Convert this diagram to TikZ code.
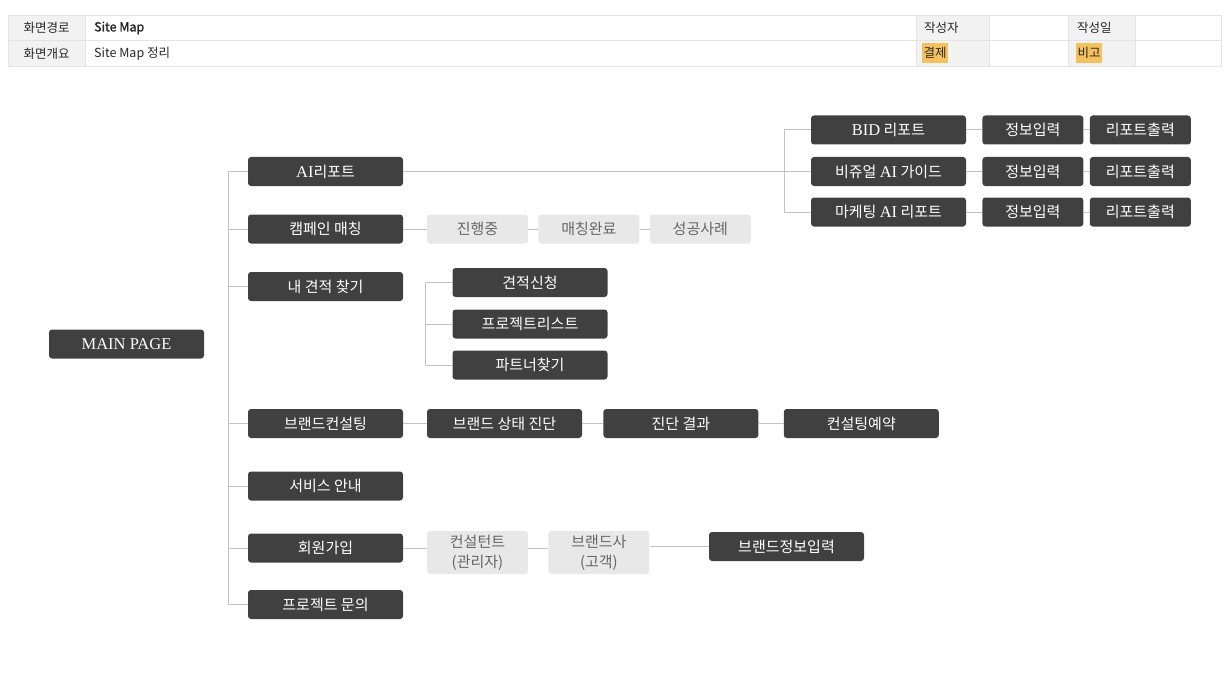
\documentclass[tikz,border=0pt]{standalone}
\usepackage{fontspec}
\setmainfont{Noto Sans CJK KR}
\newfontfamily\latn[Scale=1.1]{Liberation Serif}
\usetikzlibrary{positioning}

\definecolor{boxdark}{HTML}{404040}
\definecolor{boxlight}{HTML}{E8E8E8}
\definecolor{linegray}{HTML}{C4C4C4}
\definecolor{cellgray}{HTML}{F2F2F2}
\definecolor{cellline}{HTML}{E4E4E4}
\definecolor{hilite}{HTML}{F5C15C}

\begin{document}
\begin{tikzpicture}[x=1pt, y=-1pt, font=\fontsize{15}{20}\selectfont,
    dark/.style={rectangle, fill=boxdark, text=white, rounded corners=3pt,
      minimum width=155pt, minimum height=29pt, inner sep=0pt},
    small/.style={minimum width=101pt},
    light/.style={rectangle, fill=boxlight, text=black!60, rounded corners=3pt,
      minimum width=101pt, minimum height=29pt, inner sep=0pt, align=center},
    link/.style={draw=linegray, line width=1pt},
    cell/.style={font=\fontsize{12.5}{14}\selectfont, text=black!85, inner sep=0pt}]
    \useasboundingbox (0,0) rectangle (1229,674);

    % header table
    \fill[cellgray] (8,15) rectangle (85,66);
    \fill[cellgray] (916,15) rectangle (989,66);
    \fill[cellgray] (1068,15) rectangle (1135,66);
    \draw[cellline] (8,15) rectangle (1221,66);
    \draw[cellline] (8,40.5) -- (1221,40.5);
    \foreach \x in {85,916,989,1068,1135}
        \draw[cellline] (\x,15) -- (\x,66);
    \node (h1) [cell] at (46.5,28) {화면경로};
    \node (h2) [cell] at (46.5,54) {화면개요};
    \node (h3) [cell, anchor=west] at (94,28) {\addfontfeature{FakeBold=1.5}Site Map};
    \node (h4) [cell, anchor=west] at (94,54) {Site Map 정리};
    \node (h5) [cell, anchor=west] at (924,28) {작성자};
    \node (h6) [cell, anchor=west] at (1077,28) {작성일};
    \node (h7) [cell, anchor=west, fill=hilite, inner xsep=1.5pt, inner ysep=4pt] at (922,53) {결제};
    \node (h8) [cell, anchor=west, fill=hilite, inner xsep=1.5pt, inner ysep=4pt] at (1076,53) {비고};

    % main and first level
    \node (main) [dark] at (126.5,344) {\latn MAIN PAGE};
    \node (ai) [dark] at (325.5,171.5) {{\latn AI}리포트};
    \node (camp) [dark] at (325.5,229) {캠페인 매칭};
    \node (quote) [dark] at (325.5,286.5) {내 견적 찾기};
    \node (brand) [dark] at (325.5,423.5) {브랜드컨설팅};
    \node (service) [dark] at (325.5,486) {서비스 안내};
    \node (member) [dark] at (325.5,548) {회원가입};
    \node (inquiry) [dark] at (325.5,604.5) {프로젝트 문의};

    \coordinate (trunktop) at (228,171.5);
    \coordinate (trunkbot) at (228,604.5);
    \draw[link] (trunktop) -- (trunkbot);
    \foreach \n in {ai,camp,quote,brand,service,member,inquiry}
        \draw[link] (\n.west) -- (\n.west -| trunktop);

    % AI report
    \node (bid) [dark] at (888.5,130) {{\latn BID} 리포트};
    \node (guide) [dark] at (888.5,171.5) {비쥬얼 {\latn AI} 가이드};
    \node (mkt) [dark] at (888.5,212) {마케팅 {\latn AI} 리포트};
    \node (info1) [dark, small, right=16pt of bid] {정보입력};
    \node (out1) [dark, small, right=6pt of info1] {리포트출력};
    \node (info2) [dark, small, right=16pt of guide] {정보입력};
    \node (out2) [dark, small, right=6pt of info2] {리포트출력};
    \node (info3) [dark, small, right=16pt of mkt] {정보입력};
    \node (out3) [dark, small, right=6pt of info3] {리포트출력};

    \draw[link] (ai) -- (guide);
    \draw[link] (bid.west) -- ++(-26,0) |- (mkt.west);
    \foreach \i in {1,2,3}
        \draw[link] (info\i) -- (out\i);
    \draw[link] (bid) -- (info1);
    \draw[link] (guide) -- (info2);
    \draw[link] (mkt) -- (info3);

    % campaign
    \node (ongoing) [light] at (477.5,229) {진행중};
    \node (matched) [light, right=10pt of ongoing] {매칭완료};
    \node (success) [light, right=10pt of matched] {성공사례};
    \draw[link] (camp) -- (ongoing);
    \draw[link] (ongoing) -- (matched);
    \draw[link] (matched) -- (success);

    % my quote
    \node (request) [dark] at (530,282.5) {견적신청};
    \node (plist) [dark] at (530,324) {프로젝트리스트};
    \node (partner) [dark] at (530,365) {파트너찾기};
    \draw[link] (request.west) -- ++(-27,0) |- (partner.west);
    \draw[link] (plist.west) -- ++(-27,0);

    % brand consulting
    \node (diag) [dark] at (504.5,423.5) {브랜드 상태 진단};
    \node (result) [dark, right=21pt of diag] {진단 결과};
    \node (booking) [dark, right=25pt of result] {컨설팅예약};
    \draw[link] (brand) -- (diag);
    \draw[link] (diag) -- (result);
    \draw[link] (result) -- (booking);

    % sign up
    \node (consultant) [light, minimum height=43pt] at (477.5,552.5) {컨설턴트\\(관리자)};
    \node (client) [light, minimum height=43pt, right=20pt of consultant] {브랜드사\\(고객)};
    \node (brandinfo) [dark] at (786.5,546.5) {브랜드정보입력};
    \draw[link] (member.east) -- (member.east -| consultant.west);
    \draw[link] (member.east -| consultant.east) -- (member.east -| client.west);
    \draw[link] (brandinfo.west -| client.east) -- (brandinfo.west);
\end{tikzpicture}
\end{document}
